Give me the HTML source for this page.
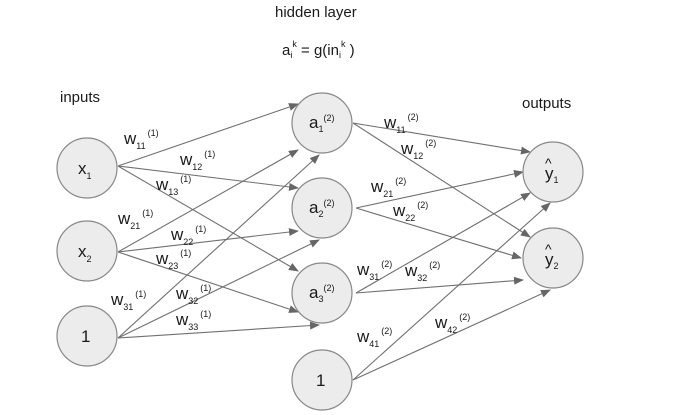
<!DOCTYPE html>
<html><head><meta charset="utf-8"><style>
html,body{margin:0;padding:0;background:#fff;}
svg{display:block;font-family:"Liberation Sans",sans-serif;fill:#1a1a1a;}
</style></head><body>
<svg width="685" height="415" viewBox="0 0 685 415" xmlns="http://www.w3.org/2000/svg">
<defs><marker id="ar" markerWidth="10" markerHeight="8" refX="9" refY="4" orient="auto" markerUnits="userSpaceOnUse"><path d="M0,0 L10,4 L0,8 z" fill="#666"/></marker></defs>
<g stroke="#707070" stroke-width="1.1" marker-end="url(#ar)">
<line x1="118" y1="166" x2="298" y2="104"/>
<line x1="118" y1="166" x2="298" y2="188"/>
<line x1="118" y1="166" x2="298" y2="271"/>
<line x1="118" y1="252" x2="298" y2="150"/>
<line x1="118" y1="252" x2="298" y2="231"/>
<line x1="118" y1="252" x2="298" y2="312"/>
<line x1="118" y1="338" x2="319" y2="155"/>
<line x1="118" y1="338" x2="319" y2="240"/>
<line x1="118" y1="338" x2="319" y2="325"/>
<line x1="353" y1="123" x2="530" y2="152"/>
<line x1="353" y1="123" x2="530" y2="237"/>
<line x1="356" y1="208" x2="523" y2="172"/>
<line x1="356" y1="208" x2="521" y2="258"/>
<line x1="356" y1="293" x2="530" y2="193"/>
<line x1="356" y1="293" x2="523" y2="280"/>
<line x1="353" y1="380" x2="550" y2="203"/>
<line x1="353" y1="380" x2="550" y2="290"/>
</g>
<g fill="#ececec" stroke="#888" stroke-width="1.2">
<circle cx="87" cy="168" r="30"/><circle cx="87" cy="251" r="30"/><circle cx="87" cy="336" r="30"/>
<circle cx="322" cy="123" r="30"/><circle cx="322" cy="208" r="30"/><circle cx="322" cy="293" r="30"/><circle cx="322" cy="380" r="30"/>
<circle cx="553" cy="172" r="30"/><circle cx="553" cy="258" r="30"/>
</g>
<g font-size="15">
<text x="275" y="17">hidden layer</text>
<text x="282" y="55">a<tspan font-size="9" dy="3">i</tspan><tspan font-size="9" dy="-11">k</tspan><tspan dy="8"> = g(in</tspan><tspan font-size="9" dy="3">i</tspan><tspan font-size="9" dy="-11">k</tspan><tspan dy="8"> )</tspan></text>
<text x="60" y="102">inputs</text>
<text x="522" y="108">outputs</text>
<text x="78" y="174" font-size="17">x<tspan font-size="9" dy="5">1</tspan></text>
<text x="78" y="257" font-size="17">x<tspan font-size="9" dy="5">2</tspan></text>
<text x="81" y="342" font-size="17">1</text>
<text x="309" y="128" font-size="17">a<tspan font-size="9" dy="4">1</tspan><tspan font-size="9" dy="-11">(2)</tspan></text>
<text x="309" y="213" font-size="17">a<tspan font-size="9" dy="4">2</tspan><tspan font-size="9" dy="-11">(2)</tspan></text>
<text x="309" y="298" font-size="17">a<tspan font-size="9" dy="4">3</tspan><tspan font-size="9" dy="-11">(2)</tspan></text>
<text x="316" y="386" font-size="17">1</text>
<text x="545" y="179" font-size="17">y<tspan font-size="9" dy="4">1</tspan></text>
<text x="545" y="168" font-size="14">^</text>
<text x="545" y="265" font-size="17">y<tspan font-size="9" dy="4">2</tspan></text>
<text x="545" y="254" font-size="14">^</text>
</g>
<g font-size="17">
<text x="124" y="144">w<tspan font-size="9" dy="5">11</tspan><tspan font-size="9" dy="-13" dx="2">(1)</tspan></text>
<text x="180" y="165">w<tspan font-size="9" dy="5">12</tspan><tspan font-size="9" dy="-13" dx="2">(1)</tspan></text>
<text x="156" y="190">w<tspan font-size="9" dy="5">13</tspan><tspan font-size="9" dy="-13" dx="2">(1)</tspan></text>
<text x="118" y="224">w<tspan font-size="9" dy="5">21</tspan><tspan font-size="9" dy="-13" dx="2">(1)</tspan></text>
<text x="171" y="240">w<tspan font-size="9" dy="5">22</tspan><tspan font-size="9" dy="-13" dx="2">(1)</tspan></text>
<text x="156" y="264">w<tspan font-size="9" dy="5">23</tspan><tspan font-size="9" dy="-13" dx="2">(1)</tspan></text>
<text x="111" y="305">w<tspan font-size="9" dy="5">31</tspan><tspan font-size="9" dy="-13" dx="2">(1)</tspan></text>
<text x="176" y="299">w<tspan font-size="9" dy="5">32</tspan><tspan font-size="9" dy="-13" dx="2">(1)</tspan></text>
<text x="176" y="325">w<tspan font-size="9" dy="5">33</tspan><tspan font-size="9" dy="-13" dx="2">(1)</tspan></text>
<text x="384" y="128">w<tspan font-size="9" dy="5">11</tspan><tspan font-size="9" dy="-13" dx="2">(2)</tspan></text>
<text x="401" y="154">w<tspan font-size="9" dy="5">12</tspan><tspan font-size="9" dy="-13" dx="2">(2)</tspan></text>
<text x="371" y="192">w<tspan font-size="9" dy="5">21</tspan><tspan font-size="9" dy="-13" dx="2">(2)</tspan></text>
<text x="393" y="216">w<tspan font-size="9" dy="5">22</tspan><tspan font-size="9" dy="-13" dx="2">(2)</tspan></text>
<text x="357" y="275">w<tspan font-size="9" dy="5">31</tspan><tspan font-size="9" dy="-13" dx="2">(2)</tspan></text>
<text x="405" y="276">w<tspan font-size="9" dy="5">32</tspan><tspan font-size="9" dy="-13" dx="2">(2)</tspan></text>
<text x="357" y="342">w<tspan font-size="9" dy="5">41</tspan><tspan font-size="9" dy="-13" dx="2">(2)</tspan></text>
<text x="435" y="328">w<tspan font-size="9" dy="5">42</tspan><tspan font-size="9" dy="-13" dx="2">(2)</tspan></text>
</g>
</svg>
</body></html>
